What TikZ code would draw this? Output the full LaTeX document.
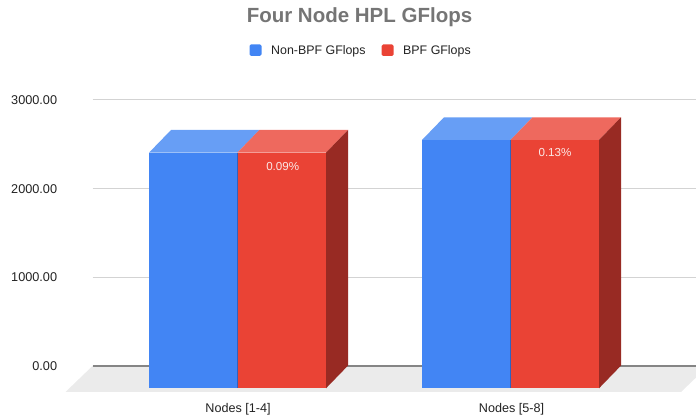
\documentclass[tikz,border=0pt]{standalone}
\usepackage{fontspec}
\setmainfont{Liberation Sans}
\definecolor{bblue}{HTML}{4285F4}
\definecolor{bbluetop}{HTML}{679EF5}
\definecolor{bblueedge}{HTML}{2F62C0}
\definecolor{bred}{HTML}{EA4335}
\definecolor{bredtop}{HTML}{EE695E}
\definecolor{bredside}{HTML}{982A23}
\definecolor{floorgray}{HTML}{EBEBEB}
\definecolor{gridgray}{HTML}{D3D3D3}
\definecolor{basegray}{HTML}{858585}
\definecolor{titlegray}{HTML}{757575}
\definecolor{labelgray}{HTML}{222222}
\definecolor{pctwhite}{HTML}{FBE9E7}
\begin{document}
\begin{tikzpicture}[x=1pt,y=-1pt,
  titletext/.style={font=\fontsize{20.5}{24}\selectfont\bfseries, text=titlegray, inner sep=0pt},
  legtext/.style={font=\fontsize{12.4}{15}\selectfont, text=labelgray, inner sep=0pt, anchor=base west},
  axtext/.style={font=\fontsize{12.7}{15}\selectfont, text=labelgray, inner sep=0pt, anchor=base east},
  cattext/.style={font=\fontsize{12.6}{15}\selectfont, text=labelgray, inner sep=0pt, anchor=base},
  pcttext/.style={font=\fontsize{11.6}{14}\selectfont, text=pctwhite, inner sep=0pt, anchor=base},
  gridline/.style={draw=gridgray, line width=1pt},
  baseline/.style={draw=basegray, line width=1.6pt},
  legsq/.style={rounded corners=1.5pt}
]
\useasboundingbox (0,0) rectangle (696,419);
% title
\node[titletext, anchor=base] (title) at (359.5,22.7) {Four Node HPL GFlops};
% legend
\fill[bblue, legsq] (249.5,44.5) rectangle (261.5,56);
\node[legtext] (leg1) at (271,55) {Non-BPF GFlops};
\fill[bred, legsq] (381.5,44.5) rectangle (393.5,56);
\node[legtext] (leg2) at (403,55) {BPF GFlops};
% gridlines
\draw[gridline] (92.5,100) -- (696,100);
\draw[gridline] (92.5,188.7) -- (696,188.7);
\draw[gridline] (92.5,277.3) -- (696,277.3);
% axis labels
\node[axtext] (y3) at (57.3,104.6) {3000.00};
\node[axtext] (y2) at (57.3,193.3) {2000.00};
\node[axtext] (y1) at (57.3,281.9) {1000.00};
\node[axtext] (y0) at (57.3,370.6) {0.00};
% floor
\fill[floorgray] (92.5,366) -- (708,366) -- (681,392) -- (65.5,392) -- cycle;
\draw[baseline] (92.5,366) -- (696,366);
% bars: group 1
\def\dx{22}\def\dy{-22.7}
% group 1 (top 152.7, bottom 388.3)
\fill[bblue] (149,152.7) rectangle (237.3,388.3);
\fill[bbluetop] (149,152.7) -- (171,130) -- (259.3,130) -- (237.3,152.7) -- cycle;
\fill[bred] (237.3,152.7) rectangle (326,388.3);
\fill[bredtop] (237.3,152.7) -- (259.3,130) -- (348,130) -- (326,152.7) -- cycle;
\fill[bredside] (326,152.7) -- (348,130) -- (348,365.6) -- (326,388.3) -- cycle;
\draw[bblueedge, line width=0.6pt] (237.3,152.7) -- (237.3,388.3);
% group 2 (top 140, bottom 388.3)
\fill[bblue] (422,140) rectangle (510.5,388.3);
\fill[bbluetop] (422,140) -- (444,117.3) -- (532.5,117.3) -- (510.5,140) -- cycle;
\fill[bred] (510.5,140) rectangle (599,388.3);
\fill[bredtop] (510.5,140) -- (532.5,117.3) -- (621,117.3) -- (599,140) -- cycle;
\fill[bredside] (599,140) -- (621,117.3) -- (621,365.6) -- (599,388.3) -- cycle;
\draw[bblueedge, line width=0.6pt] (510.5,140) -- (510.5,388.3);
% data labels
\node[pcttext] (p1) at (282.7,170.2) {0.09\%};
\node[pcttext] (p2) at (555,157) {0.13\%};
% category labels
\node[cattext] (c1) at (238,412.3) {Nodes [1-4]};
\node[cattext] (c2) at (511.5,412.3) {Nodes [5-8]};
\end{tikzpicture}
\end{document}
